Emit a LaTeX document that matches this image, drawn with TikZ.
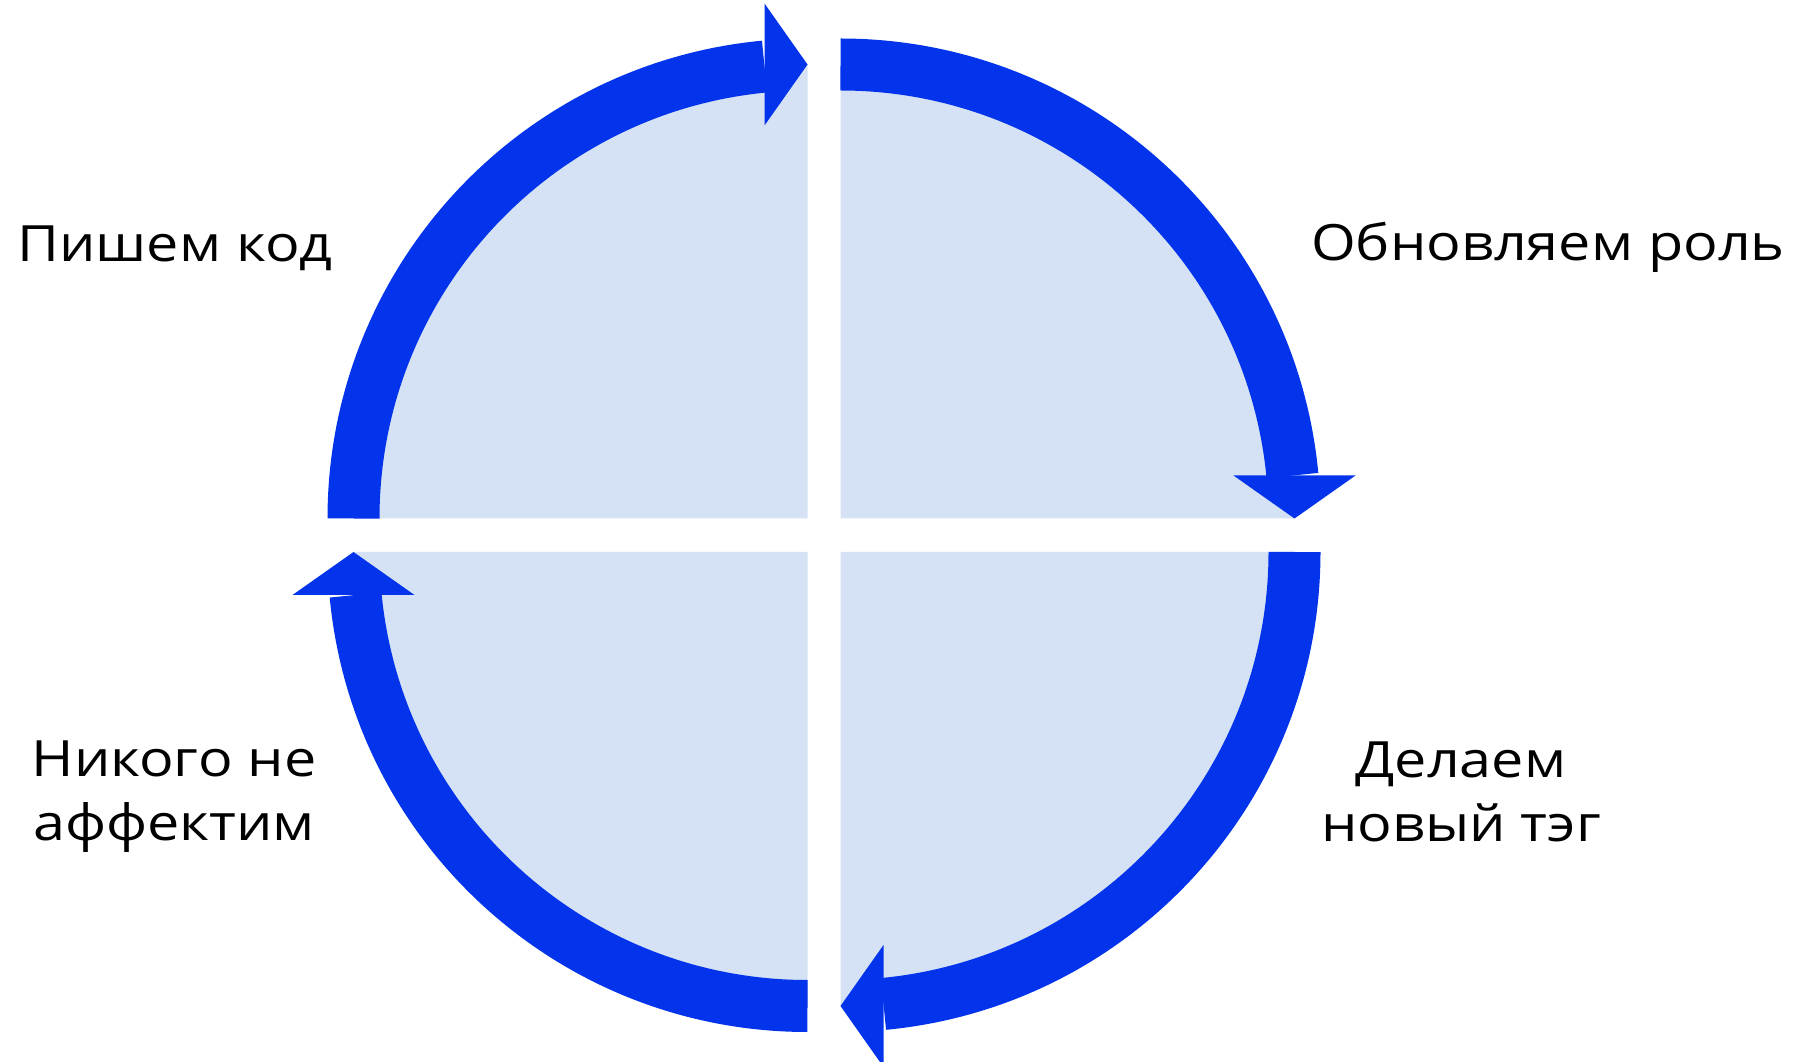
\documentclass[tikz,border=0pt]{standalone}
\usepackage{fontspec}
\setmainfont{Open Sans}[FakeStretch=1.15]
\definecolor{cycleblue}{RGB}{3,52,235}
\definecolor{cyclefill}{RGB}{213,225,244}
\begin{document}
\begin{tikzpicture}[x=1pt,y=1pt,
    band/.style={draw=cycleblue,line width=52pt},
    stagetext/.style={font=\fontsize{50}{64}\selectfont,align=center,anchor=base}]
  \useasboundingbox (0,0) rectangle (1801,1061);
  % corners of the four quarters
  \coordinate (tl) at (807.5,542.5);
  \coordinate (tr) at (840.5,542.5);
  \coordinate (br) at (840.5,509);
  \coordinate (bl) at (807.5,509);
  % light quarters
  \fill[cyclefill] (tl) -- ++(180:454pt) arc (180:90:454pt) -- cycle;
  \fill[cyclefill] (tr) -- ++(90:454pt) arc (90:0:454pt) -- cycle;
  \fill[cyclefill] (br) -- ++(0:454pt) arc (0:-90:454pt) -- cycle;
  \fill[cyclefill] (bl) -- ++(270:454pt) arc (270:180:454pt) -- cycle;
  % blue bands
  \draw[band] (tl) ++(180:454pt) arc (180:95.43:454pt);
  \draw[band] (tr) ++(90:454pt) arc (90:5.43:454pt);
  \draw[band] (br) ++(0:454pt) arc (0:-84.57:454pt);
  \draw[band] (bl) ++(270:454pt) arc (270:185.43:454pt);
  % arrow heads
  \fill[cycleblue] (tl) ++(0,454) -- ++(-43,61) -- ++(0,-122) -- cycle;
  \fill[cycleblue] (tr) ++(454,0) -- ++(-61,43) -- ++(122,0) -- cycle;
  \fill[cycleblue] (br) ++(0,-454) -- ++(43,-61) -- ++(0,122) -- cycle;
  \fill[cycleblue] (bl) ++(-454,0) -- ++(61,-43) -- ++(-122,0) -- cycle;
  % stages (base = last line)
  \node[stagetext] (code) at (175,799) {Пишем код};
  \node[stagetext] (role) at (1548,800) {Обновляем роль};
  \node[stagetext] (tag) at (1461,220) {Делаем\\новый тэг};
  \node[stagetext] (safe) at (174,221) {Никого не\\аффектим};
\end{tikzpicture}
\end{document}
